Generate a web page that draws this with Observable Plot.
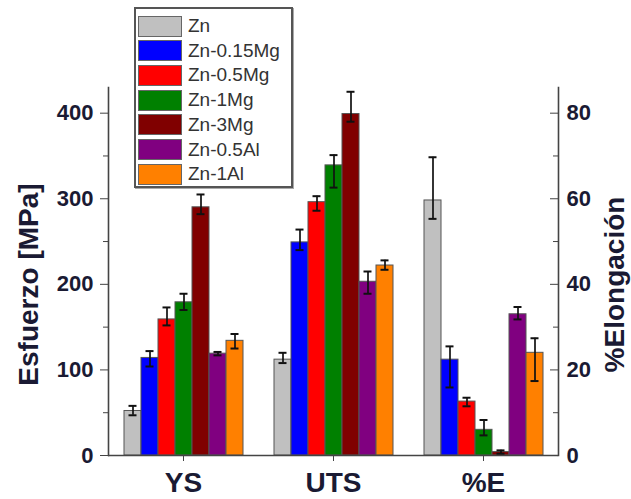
<!DOCTYPE html>
<html>
<head>
<meta charset="utf-8">
<script src="https://cdn.jsdelivr.net/npm/d3@7"></script>
<script src="https://cdn.jsdelivr.net/npm/@observablehq/plot@0.6"></script>
<style>
  html, body { margin: 0; padding: 0; background: #fff; }
  #wrap { position: relative; width: 631px; height: 499px; font-family: "Liberation Sans", Arial, sans-serif; }
  #legend { position: absolute; left: 134px; top: 7px; width: 155px; height: 177px; background: #fff;
            border: 2px solid #555; box-shadow: 1px 1px 0 #aaa; }
  .row { position: absolute; left: 2px; height: 22px; display: flex; align-items: center; }
  .sw { width: 44px; height: 21px; border: 1px solid #666; box-sizing: border-box; }
  .lab { margin-left: 6px; font-size: 19px; color: #333; white-space: nowrap; }
</style>
</head>
<body>
<div id="wrap"><div id="chart"></div><div id="legend"></div></div>
<script>
const groups = ["YS", "UTS", "%E"];
const series = ["Zn", "Zn-0.15Mg", "Zn-0.5Mg", "Zn-1Mg", "Zn-3Mg", "Zn-0.5Al", "Zn-1Al"];
const colors = ["#c0c0c0", "#0000ff", "#ff0000", "#008000", "#800000", "#800080", "#ff8000"];

// Yield strength (MPa)
const ysValue   = [52, 114, 159, 179, 290, 119, 134];
const ysErrUp   = [6, 8, 14, 10, 15, 2, 8];
const ysErrDown = [5, 10, 7, 9, 8, 2, 9];
// Ultimate tensile strength (MPa)
const utsValue   = [112, 249, 296, 339, 399, 203, 222];
const utsErrUp   = [8, 15, 7, 12, 26, 12, 6];
const utsErrDown = [4, 9, 10, 26, 9, 14, 5];
// Elongation (%), right axis
const elValue   = [59.6, 22.4, 12.6, 6.0, 0.8, 33.0, 24.0];
const elErrUp   = [10.1, 3.1, 0.9, 2.3, 0.4, 1.7, 3.4];
const elErrDown = [4.3, 6.5, 1.1, 1.3, 0.4, 1.2, 6.6];

// axis ticks
const leftTicks = [0, 100, 200, 300, 400];
const leftMinor = [50, 150, 250, 350];
const rightTicks = [0, 20, 40, 60, 80];
const rightMinor = [10, 30, 50, 70];
const rightToLeft = 400 / 80; // 80 % on the right axis lines up with 400 MPa on the left

const rows = [];
series.forEach((s, i) => {
  rows.push({group: "YS", series: s, value: ysValue[i], lo: ysValue[i] - ysErrDown[i], hi: ysValue[i] + ysErrUp[i]});
});
series.forEach((s, i) => {
  rows.push({group: "UTS", series: s, value: utsValue[i], lo: utsValue[i] - utsErrDown[i], hi: utsValue[i] + utsErrUp[i]});
});
series.forEach((s, i) => {
  const k = rightToLeft;
  rows.push({group: "%E", series: s, value: elValue[i] * k, lo: (elValue[i] - elErrDown[i]) * k, hi: (elValue[i] + elErrUp[i]) * k});
});

const txt = "#1a1a33";
const axisStroke = "#444";

const chart = Plot.plot({
  width: 631, height: 499,
  marginLeft: 107, marginRight: 72, marginTop: 87, marginBottom: 44,
  style: {fontFamily: "'Liberation Sans', Arial, sans-serif", fontWeight: "bold", background: "#fff"},
  fx: {domain: groups, padding: 0, label: null, axis: null},
  x: {domain: series, paddingInner: 0, paddingOuter: 0.9, axis: null},
  y: {domain: [0, 430], axis: null},
  color: {domain: series, range: colors},
  marks: [
    Plot.barY(rows, {fx: "group", x: "series", y: "value", fill: "series", stroke: "#555", strokeWidth: 1}),
    Plot.ruleX(rows, {fx: "group", x: "series", y1: "lo", y2: "hi", stroke: "#111", strokeWidth: 1.7}),
    Plot.tickY(rows, {fx: "group", x: "series", y: "lo", insetLeft: 4.5, insetRight: 4.5, stroke: "#111", strokeWidth: 2}),
    Plot.tickY(rows, {fx: "group", x: "series", y: "hi", insetLeft: 4.5, insetRight: 4.5, stroke: "#111", strokeWidth: 2}),
    Plot.ruleY([0], {stroke: axisStroke, strokeWidth: 1.6}),
    Plot.frame({anchor: "left", facetAnchor: "left", stroke: axisStroke, strokeWidth: 1.6}),
    Plot.frame({anchor: "right", facetAnchor: "right", stroke: axisStroke, strokeWidth: 1.6}),
    Plot.axisFx({anchor: "bottom", tickSize: 6, tickPadding: 11, fontSize: 28, fontWeight: "bold", stroke: axisStroke, fill: txt, label: null}),
    Plot.axisY({anchor: "left", ticks: leftTicks, tickSize: 8, tickPadding: 7, fontSize: 22, fontWeight: "bold", stroke: axisStroke, fill: txt, label: null}),
    Plot.axisY({anchor: "left", ticks: leftMinor, tickSize: 5, tickFormat: () => "", stroke: axisStroke, label: null}),
    Plot.axisY({anchor: "right", ticks: rightTicks.map(d => d * rightToLeft), tickFormat: d => String(d / rightToLeft), tickSize: -9, tickPadding: 17, fontSize: 22, fontWeight: "bold", stroke: axisStroke, fill: txt, label: null}),
    Plot.axisY({anchor: "right", ticks: rightMinor.map(d => d * rightToLeft), tickSize: -6, tickFormat: () => "", stroke: axisStroke, label: null}),
    Plot.text([{g: "YS", t: "Esfuerzo [MPa]"}], {fx: "g", text: "t", frameAnchor: "left", textAnchor: "middle", lineAnchor: "middle", rotate: -90, dx: -79, dy: 13, fontSize: 28, fontWeight: "bold", fill: txt}),
    Plot.text([{g: "%E", t: "%Elongación"}], {fx: "g", text: "t", frameAnchor: "right", textAnchor: "middle", lineAnchor: "middle", rotate: -90, dx: 57, dy: 13, fontSize: 28, fontWeight: "bold", fill: txt})
  ]
});
document.getElementById("chart").appendChild(chart);

// legend
const legend = d3.select("#legend");
series.forEach((s, i) => {
  const row = legend.append("div").attr("class", "row").style("top", (6 + i * 24.7) + "px");
  row.append("div").attr("class", "sw").style("background", colors[i]);
  row.append("div").attr("class", "lab").text(s);
});
</script>
</body>
</html>
